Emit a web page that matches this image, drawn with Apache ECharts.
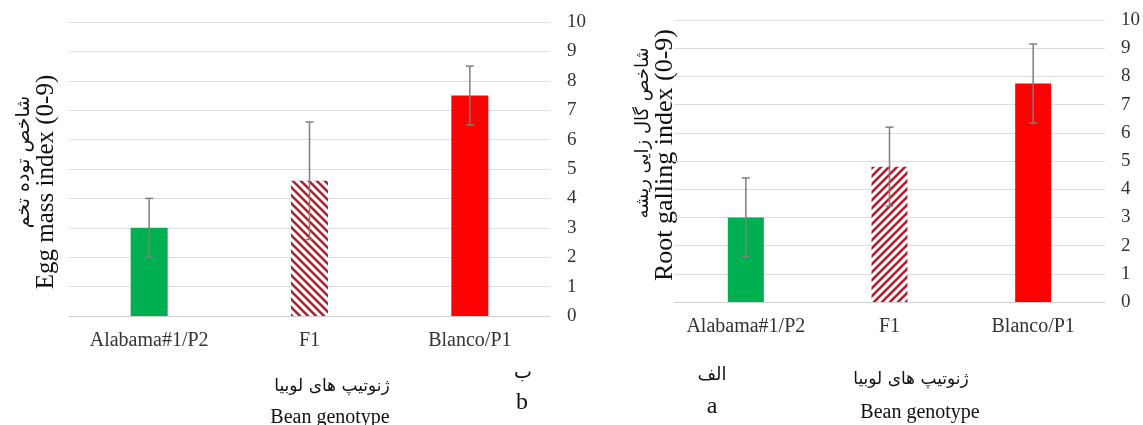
<!DOCTYPE html>
<html>
<head>
<meta charset="utf-8">
<script src="https://cdn.jsdelivr.net/npm/echarts@6/dist/echarts.min.js"></script>
<style>
html,body{margin:0;padding:0;background:#fff;}
#chart{width:1143px;height:425px;}
</style>
</head>
<body>
<div id="chart"></div>
<script>
// ---- data ----
const categories = ['Alabama#1/P2', 'F1', 'Blanco/P1'];
const eggMassMeans = [3, 4.6, 7.5];
const eggMassErrors = [1, 2, 1];
const rootGallMeans = [3, 4.8, 7.75];
const rootGallErrors = [1.4, 1.4, 1.4];
const yMin = 0, yMax = 10, yStep = 1;

// ---- styles ----
function hatch(dir) {
  const c = document.createElement('canvas');
  c.width = 8; c.height = 8;
  const g = c.getContext('2d');
  g.fillStyle = '#ffffff'; g.fillRect(0, 0, 8, 8);
  g.strokeStyle = '#b01e2c'; g.lineWidth = 2.6;
  g.beginPath();
  if (dir === '/') {
    g.moveTo(-2, 10); g.lineTo(10, -2);
    g.moveTo(-6, 6); g.lineTo(6, -6);
    g.moveTo(2, 14); g.lineTo(14, 2);
  } else {
    g.moveTo(-2, -2); g.lineTo(10, 10);
    g.moveTo(-6, 2); g.lineTo(6, 14);
    g.moveTo(2, -6); g.lineTo(14, 6);
  }
  g.stroke();
  return { image: c, repeat: 'repeat' };
}
const leftColors = ['#00b050', hatch('\\'), '#ff0000'];
const rightColors = ['#00b050', hatch('/'), '#ff0000'];
const serif = "'Liberation Serif', 'Times New Roman', serif";
const persian = "'DejaVu Sans', sans-serif";

function barData(means, colors) {
  return means.map((v, i) => ({ value: v, itemStyle: { color: colors[i] } }));
}
function errData(means, errs) {
  return means.map((v, i) => [i, v - errs[i], v + errs[i]]);
}
function errRender(params, api) {
  const x = api.value(0);
  const lo = api.coord([x, api.value(1)]);
  const hi = api.coord([x, api.value(2)]);
  const hw = 4;
  const st = { stroke: '#7f7f7f', lineWidth: 1.5 };
  return {
    type: 'group',
    children: [
      { type: 'line', shape: { x1: hi[0], y1: hi[1], x2: lo[0], y2: lo[1] }, style: st },
      { type: 'line', shape: { x1: hi[0] - hw, y1: hi[1], x2: hi[0] + hw, y2: hi[1] }, style: st },
      { type: 'line', shape: { x1: lo[0] - hw, y1: lo[1], x2: lo[0] + hw, y2: lo[1] }, style: st }
    ]
  };
}

function xAx(gi) {
  return {
    type: 'category', gridIndex: gi, data: categories,
    axisLine: { show: true, lineStyle: { color: '#d0d0d0', width: 1 } },
    axisTick: { show: false },
    axisLabel: { interval: 0, fontFamily: serif, fontSize: 20, color: '#333', margin: 15 }
  };
}
function yAx(gi, margin) {
  return {
    type: 'value', gridIndex: gi, position: 'right',
    min: yMin, max: yMax, interval: yStep,
    axisLine: { show: false }, axisTick: { show: false },
    axisLabel: { fontFamily: serif, fontSize: 19, color: '#333', margin: margin },
    splitLine: { lineStyle: { color: '#dcdcdc', width: 1.2 } }
  };
}
function txt(x, y, s, size, font, rot) {
  return {
    type: 'text', x: x, y: y, rotation: rot || 0,
    style: { text: s, fontSize: size, fontFamily: font, fill: '#111', align: 'center', verticalAlign: 'middle' }
  };
}

const chart = echarts.init(document.getElementById('chart'), null, { renderer: 'canvas' });
chart.setOption({
  animation: false,
  backgroundColor: '#fff',
  grid: [
    { left: 69, top: 22, width: 481, height: 294 },
    { left: 674, top: 20, width: 433, height: 282 }
  ],
  xAxis: [xAx(0), xAx(1)],
  yAxis: [yAx(0, 17), yAx(1, 16)],
  series: [
    { type: 'bar', xAxisIndex: 0, yAxisIndex: 0, barWidth: 37, data: barData(eggMassMeans, leftColors) },
    { type: 'custom', xAxisIndex: 0, yAxisIndex: 0, z: 5, renderItem: errRender, data: errData(eggMassMeans, eggMassErrors), encode: { x: 0, y: [1, 2] } },
    { type: 'bar', xAxisIndex: 1, yAxisIndex: 1, barWidth: 36, data: barData(rootGallMeans, rightColors) },
    { type: 'custom', xAxisIndex: 1, yAxisIndex: 1, z: 5, renderItem: errRender, data: errData(rootGallMeans, rootGallErrors), encode: { x: 0, y: [1, 2] } }
  ],
  graphic: [
    txt(24, 162, 'شاخص توده تخم', 19, persian, Math.PI / 2),
    txt(46, 182, 'Egg mass index (0-9)', 25, serif, Math.PI / 2),
    txt(643, 133, 'شاخص گال زایی ریشه', 18, persian, Math.PI / 2),
    txt(665, 155, 'Root galling index (0-9)', 26, serif, Math.PI / 2),
    txt(332, 387, 'ژنوتیپ های لوبیا', 17, persian),
    txt(330, 418, 'Bean genotype', 20, serif),
    txt(523, 373, 'ب', 19, persian),
    txt(522, 403, 'b', 24, serif),
    txt(712, 375, 'الف', 18, persian),
    txt(712, 407, 'a', 24, serif),
    txt(911, 380, 'ژنوتیپ های لوبیا', 17, persian),
    txt(920, 413, 'Bean genotype', 20, serif)
  ]
});
</script>
</body>
</html>
